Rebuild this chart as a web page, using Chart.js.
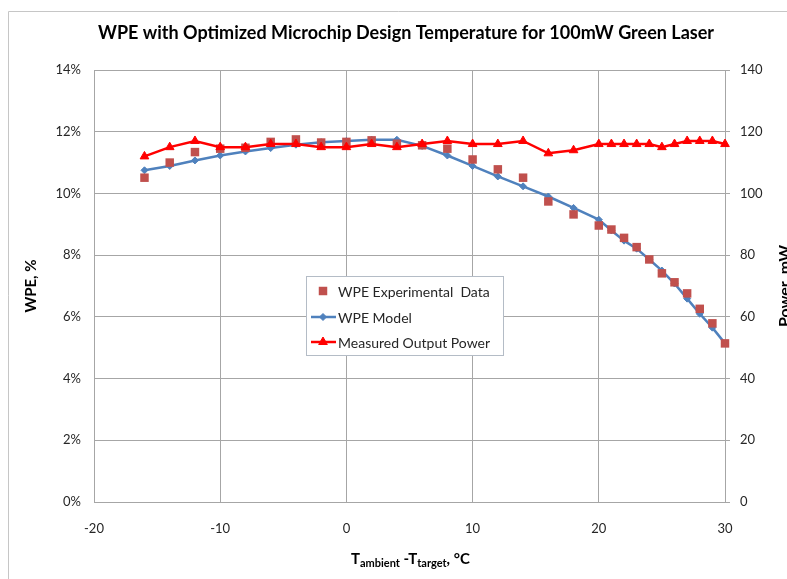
<!DOCTYPE html>
<html><head><meta charset="utf-8">
<script src="https://cdn.jsdelivr.net/npm/chart.js@4"></script>
<style>html,body{margin:0;padding:0;background:#fff}canvas{display:block}</style>
</head><body>
<canvas id="c" width="787" height="579"></canvas>
<script>
// ---- data ----
const temps = [-16,-14,-12,-10,-8,-6,-4,-2,0,2,4,6,8,10,12,14,16,18,20,21,22,23,24,25,26,27,28,29,30];
const wpeExperimental = [10.51,11.00,11.34,11.45,11.48,11.67,11.75,11.65,11.67,11.72,11.61,11.56,11.45,11.10,10.78,10.51,9.74,9.32,8.96,8.83,8.56,8.26,7.86,7.41,7.12,6.76,6.26,5.79,5.14];
const wpeModel = [10.75,10.89,11.07,11.23,11.36,11.47,11.58,11.66,11.70,11.74,11.74,11.54,11.23,10.89,10.55,10.23,9.90,9.53,9.15,8.80,8.47,8.21,7.86,7.50,7.08,6.59,6.10,5.65,5.14];
const outputPower = [112,115,117,115,115,116,116,115,115,116,115,116,117,116,116,117,113,114,116,116,116,116,116,115,116,117,117,117,116];
const xTicks = [-20,-10,0,10,20,30];
const wpeTicks = [0,2,4,6,8,10,12,14];
const powerTicks = [0,20,40,60,80,100,120,140];
const seriesNames = ['WPE Experimental  Data','WPE Model','Measured Output Power'];
const titleText = 'WPE with Optimized Microchip Design Temperature for 100mW Green Laser';

const FONT = 'Lato, "Open Sans", sans-serif';
const GRID = '#a6a6a6';
const TXT = '#262626';
const C_EXP = '#C0504D', C_MODEL = '#4F81BD', C_POW = '#FF0000';

const pts = arr => temps.map((t,i)=>({x:t,y:arr[i]}));
const setTicks = list => axis => { axis.ticks = list.map(v=>({value:v})); };

const decor = {
  id:'decor',
  afterDraw(chart){
    const ctx = chart.ctx;
    ctx.save();
    // outer border
    ctx.strokeStyle = '#c6c6c6'; ctx.lineWidth = 1;
    ctx.beginPath(); ctx.moveTo(8.5, 580); ctx.lineTo(8.5, 11.5); ctx.lineTo(790, 11.5); ctx.stroke();
    // title
    ctx.fillStyle = '#000';
    ctx.font = 'bold 18px ' + FONT;
    ctx.textAlign = 'center'; ctx.textBaseline = 'alphabetic';
    ctx.fillText(titleText, 406, 39);
    // left axis title
    ctx.save();
    ctx.translate(36, 286); ctx.rotate(-Math.PI/2);
    ctx.font = 'bold 15px ' + FONT; ctx.textAlign='center';
    ctx.fillText('WPE, %', 0, 0);
    ctx.restore();
    // right axis title (partly outside)
    ctx.save();
    ctx.translate(790, 286); ctx.rotate(-Math.PI/2);
    ctx.font = 'bold 16px ' + FONT; ctx.textAlign='center';
    ctx.fillText('Power, mW', 0, 0);
    ctx.restore();
    // x axis title with subscripts
    const parts = [['T',15,0],['ambient',11,3],[' -T',15,0],['target',11,3],[',',15,0],[' °C',15,0]];
    let x = 351; const base = 564;
    ctx.textAlign='left';
    for (const [s,sz,dy] of parts){
      ctx.font = 'bold '+sz+'px '+FONT;
      ctx.fillText(s, x, base+dy);
      x += ctx.measureText(s).width;
    }
    // legend box
    const L = 306.5, T = 276.5, W = 197, H = 79;
    ctx.fillStyle = '#fff'; ctx.fillRect(L, T, W, H);
    ctx.strokeStyle = '#b4bcc6'; ctx.lineWidth = 1; ctx.strokeRect(L, T, W, H);
    const rows = [291, 317, 342];
    ctx.font = '14px ' + FONT; ctx.textBaseline='middle'; ctx.textAlign='left';
    ctx.fillStyle = C_EXP; ctx.strokeStyle = C_EXP;
    Chart.helpers.drawPoint(ctx, {pointStyle:'rect', radius:6, borderWidth:0}, 323, rows[0]);
    ctx.strokeStyle = C_MODEL; ctx.lineWidth = 2.5;
    ctx.beginPath(); ctx.moveTo(311, rows[1]); ctx.lineTo(336, rows[1]); ctx.stroke();
    ctx.fillStyle = C_MODEL; ctx.lineWidth = 1;
    Chart.helpers.drawPoint(ctx, {pointStyle:'rectRot', radius:3.5, borderWidth:1}, 323, rows[1]);
    ctx.strokeStyle = C_POW; ctx.lineWidth = 2.5;
    ctx.beginPath(); ctx.moveTo(311, rows[2]); ctx.lineTo(336, rows[2]); ctx.stroke();
    ctx.fillStyle = C_POW; ctx.lineWidth = 1;
    Chart.helpers.drawPoint(ctx, {pointStyle:'triangle', radius:5, borderWidth:1}, 323, rows[2]);
    ctx.fillStyle = TXT;
    seriesNames.forEach((n,i)=>ctx.fillText(n, 338, rows[i]+1));
    ctx.restore();
  }
};

new Chart(document.getElementById('c'), {
  type:'line',
  data:{datasets:[
    {label:seriesNames[2], data:pts(outputPower), yAxisID:'y1', borderColor:C_POW, backgroundColor:C_POW, clip:false,
     borderWidth:2.5, pointStyle:'triangle', pointRadius:5, pointBorderWidth:1, pointBorderColor:C_POW, order:0},
    {label:seriesNames[0], data:pts(wpeExperimental), yAxisID:'y', showLine:false, borderColor:C_EXP, backgroundColor:C_EXP, clip:false,
     pointStyle:'rect', pointRadius:6, pointBorderWidth:0, order:1},
    {label:seriesNames[1], data:pts(wpeModel), yAxisID:'y', borderColor:C_MODEL, backgroundColor:C_MODEL, clip:false,
     borderWidth:2.5, pointStyle:'rectRot', pointRadius:3.5, pointBorderWidth:1, pointBorderColor:C_MODEL, order:2}
  ]},
  options:{
    responsive:false, animation:false, devicePixelRatio:1,
    layout:{padding:{top:70,left:0,right:0,bottom:0}},
    plugins:{legend:{display:false}, title:{display:false}, tooltip:{enabled:false}},
    scales:{
      x:{type:'linear', min:-20, max:30, afterBuildTicks:setTicks(xTicks),
         grid:{color:GRID, drawTicks:false}, border:{color:GRID},
         ticks:{padding:19, color:TXT, font:{family:FONT, size:13}, callback:v=>String(v)},
         afterFit:a=>{a.height=77;}},
      y:{position:'left', min:0, max:14, afterBuildTicks:setTicks(wpeTicks),
         grid:{color:GRID, drawTicks:false}, border:{color:GRID},
         ticks:{padding:13, color:TXT, font:{family:FONT, size:13}, callback:v=>v+'%'},
         afterFit:a=>{a.width=94;}},
      y1:{position:'right', min:0, max:140, afterBuildTicks:setTicks(powerTicks),
         grid:{drawOnChartArea:false, drawTicks:true, tickLength:5, color:GRID}, border:{color:GRID},
         ticks:{padding:10, color:TXT, font:{family:FONT, size:13}, callback:v=>String(v)},
         afterFit:a=>{a.width=62;}}
    }
  },
  plugins:[decor]
});
</script>
</body></html>
